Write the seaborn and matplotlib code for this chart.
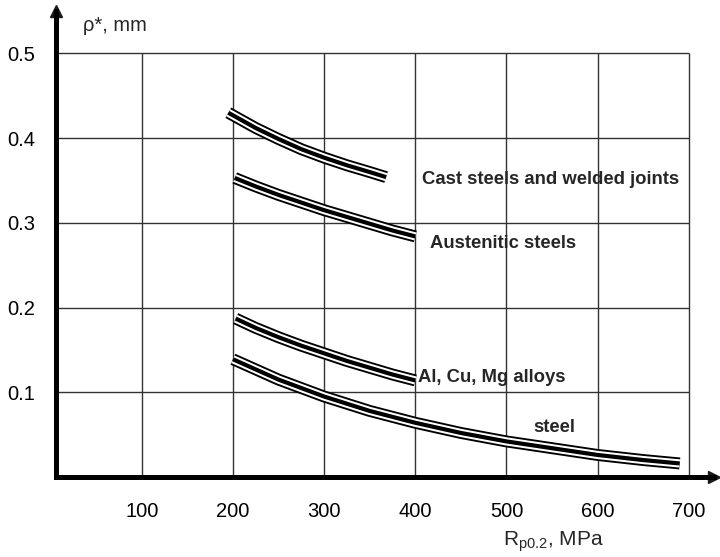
import pandas as pd
import matplotlib
matplotlib.use('Agg')
import matplotlib.pyplot as plt
import seaborn as sns

# curve centre lines (R_p0.2 in MPa, rho* in mm)
cast_x = [195, 225, 250, 275, 300, 325, 350, 368]
cast_y = [0.430, 0.412, 0.399, 0.387, 0.377, 0.368, 0.360, 0.354]

aust_x = [202, 225, 250, 275, 300, 325, 350, 375, 400]
aust_y = [0.353, 0.343, 0.333, 0.324, 0.315, 0.307, 0.299, 0.291, 0.284]

alcu_x = [203, 225, 250, 275, 300, 325, 350, 375, 400]
alcu_y = [0.187, 0.176, 0.165, 0.155, 0.146, 0.137, 0.129, 0.121, 0.114]

steel_x = [200, 250, 300, 350, 400, 450, 500, 550, 600, 650, 690]
steel_y = [0.139, 0.115, 0.095, 0.078, 0.064, 0.052, 0.042, 0.034, 0.026, 0.020, 0.016]

x_ticks = [100, 200, 300, 400, 500, 600, 700]
y_ticks = [0.1, 0.2, 0.3, 0.4, 0.5]

labels = ['Cast steels and welded joints', 'Austenitic steels', 'Al, Cu, Mg alloys', 'steel']
label_x = [407, 416, 403, 529]
label_y = [0.351, 0.276, 0.118, 0.058]

frames = []
for name, xs, ys in [('cast', cast_x, cast_y), ('austenitic', aust_x, aust_y),
                     ('alcumg', alcu_x, alcu_y), ('steel', steel_x, steel_y)]:
    frames.append(pd.DataFrame({'material': name, 'Rp02': xs, 'rho': ys}))
df = pd.concat(frames, ignore_index=True)

sns.set_theme(style='white')
plt.rcParams['font.family'] = ['Liberation Sans', 'DejaVu Sans']
plt.rcParams['mathtext.fontset'] = 'custom'
plt.rcParams['mathtext.rm'] = 'Liberation Sans'

fig = plt.figure(figsize=(7.2, 5.57), dpi=100)
ax = fig.add_axes([56 / 720, 80 / 557, 658.4 / 720, 465.9 / 557])
ax.set_xlim(6, 728)
ax.set_ylim(0, 0.55)

grid_c = '#333333'
ax.vlines(x_ticks, 0, 0.5, color=grid_c, lw=1.0, zorder=1)
ax.hlines(y_ticks, 6, 700, color=grid_c, lw=1.0, zorder=1)

# each band: thin outer lines + thick centre line
for color, lw in [('black', 8.6), ('white', 5.9), ('black', 3.0)]:
    sns.lineplot(data=df, x='Rp02', y='rho', units='material', estimator=None,
                 sort=False, color=color, lw=lw, solid_capstyle='butt',
                 legend=False, ax=ax, zorder=3)

for txt, tx, ty in zip(labels, label_x, label_y):
    ax.text(tx, ty, txt, fontsize=13.3, fontweight='bold', ha='left', va='center', zorder=4)

for side in ['top', 'right']:
    ax.spines[side].set_visible(False)
for side in ['left', 'bottom']:
    ax.spines[side].set_linewidth(3.6)
    ax.spines[side].set_color('black')

# arrow heads
ax.plot(1, 0, '>k', ms=8.6, transform=ax.get_yaxis_transform(), clip_on=False)
ax.plot(6, 1, '^k', ms=8.6, transform=ax.get_xaxis_transform(), clip_on=False)

ax.set_xticks(x_ticks)
ax.set_yticks(y_ticks)
ax.set_yticklabels(['0.1', '0.2', '0.3', '0.4', '0.5'])
ax.tick_params(direction='out', length=8, width=1.0, color=grid_c,
               labelsize=14.5, labelcolor='black', pad=7)
ax.tick_params(axis='x', pad=10)

ax.set_xlabel(r'R$_{\rm p0.2}$, MPa', fontsize=15, ha='left', va='baseline')
ax.xaxis.set_label_coords(0.679, -0.146)
ax.set_ylabel(r'ρ*, mm', fontsize=14.5, rotation=0, ha='left', va='baseline')
ax.yaxis.set_label_coords(0.041, 0.957)

fig.savefig('out.png', dpi=100)
plt.close(fig)
